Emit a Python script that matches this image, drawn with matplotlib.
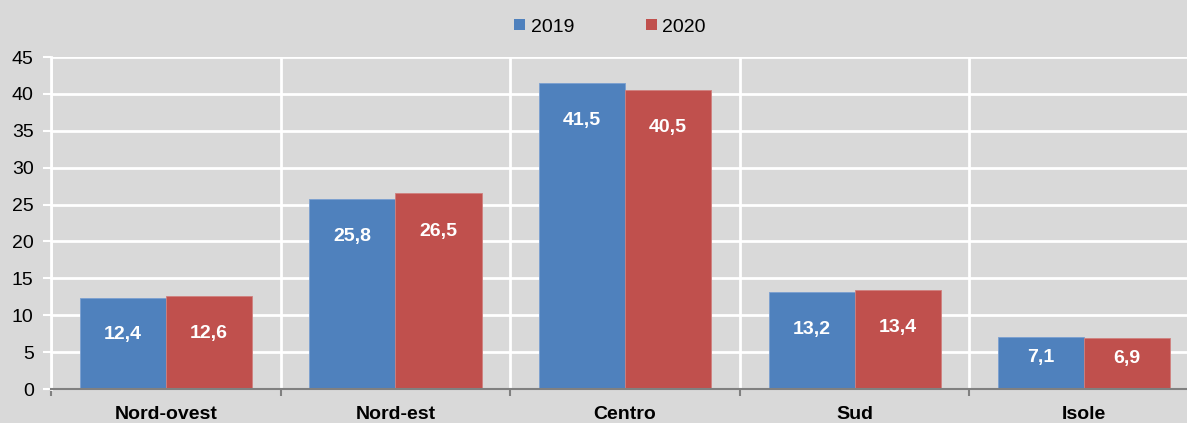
import matplotlib
matplotlib.use("Agg")
import matplotlib.pyplot as plt
from matplotlib.patches import Patch
from matplotlib import font_manager
import numpy as np

categories = ["Nord-ovest", "Nord-est", "Centro", "Sud", "Isole"]
series_names = ["2019", "2020"]
values_2019 = [12.4, 25.8, 41.5, 13.2, 7.1]
values_2020 = [12.6, 26.5, 40.5, 13.4, 6.9]
yticks = [0, 5, 10, 15, 20, 25, 30, 35, 40, 45]

names = {f.name for f in font_manager.fontManager.ttflist}
fam = "Liberation Sans Narrow" if "Liberation Sans Narrow" in names else "Liberation Sans"
plt.rcParams["font.family"] = [fam, "DejaVu Sans"]

BG = "#d9d9d9"
BLUE = "#4f81bd"
RED = "#c0504d"

fig = plt.figure(figsize=(11.87, 4.23), dpi=100, facecolor=BG)
ax = fig.add_axes([51 / 1187, 34 / 423, 1148 / 1187, 332 / 423], facecolor=BG)

x = np.arange(len(categories))
w = 0.375
b1 = ax.bar(x - w / 2, values_2019, w, color=BLUE, edgecolor="#7a9fd0", linewidth=0.6, zorder=3)
b2 = ax.bar(x + w / 2, values_2020, w, color=RED, edgecolor="#d0807e", linewidth=0.6, zorder=3)

for bars, vals in ((b1, values_2019), (b2, values_2020)):
    for rect, v in zip(bars, vals):
        ax.text(rect.get_x() + rect.get_width() / 2, v - min(5.1, 0.4 * v),
                f"{v:.1f}".replace(".", ","),
                ha="center", va="center", color="white",
                fontsize=14, fontweight="bold", zorder=4)

ax.set_xlim(-0.5, len(categories) - 0.5)
ax.set_ylim(0, 45)
ax.set_yticks(yticks)
ax.set_yticklabels([str(t) for t in yticks], fontsize=14)
ax.set_xticks(x)
ax.set_xticklabels(categories, fontsize=14, fontweight="bold")
ax.set_xticks(np.arange(-0.5, len(categories), 1.0), minor=True)

ax.tick_params(axis="x", which="major", length=0, pad=12)
ax.tick_params(axis="x", which="minor", length=5, color="#808080", width=1.5)
ax.tick_params(axis="y", length=6, color="white", width=1.5, pad=6.5)

ax.grid(axis="y", which="major", color="white", linewidth=2)
ax.grid(axis="x", which="minor", color="white", linewidth=2)
ax.set_axisbelow(True)

for s in ("top", "right"):
    ax.spines[s].set_visible(False)
ax.spines["left"].set_color("white")
ax.spines["left"].set_linewidth(2)
ax.spines["bottom"].set_color("#808080")
ax.spines["bottom"].set_linewidth(1.5)
ax.spines["bottom"].set_zorder(5)

handles = [Patch(facecolor=BLUE), Patch(facecolor=RED)]
fig.legend(handles, series_names, loc="center", bbox_to_anchor=(610 / 1187, 1 - 27 / 423),
           ncol=2, frameon=False, fontsize=14, handlelength=0.55, handleheight=0.55,
           handletextpad=0.3, columnspacing=3.7)

fig.savefig("out.png", dpi=100, facecolor=BG)
